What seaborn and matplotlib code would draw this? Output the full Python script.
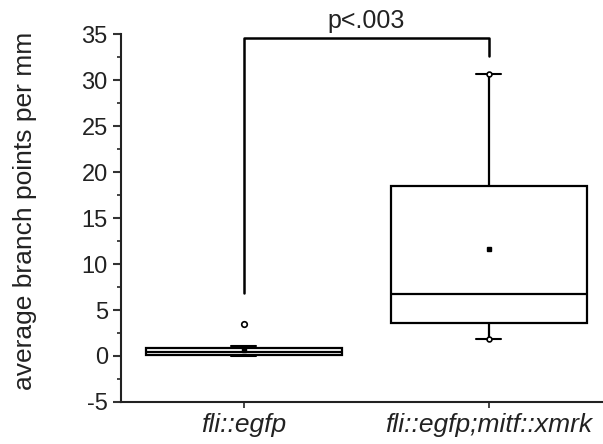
import numpy as np
import pandas as pd
import matplotlib.pyplot as plt
import seaborn as sns

sns.set_style('ticks')
plt.rcParams['font.family'] = ['Liberation Sans', 'DejaVu Sans']
plt.rcParams['axes.unicode_minus'] = False

# data (raw values chosen to reproduce box stats)
groups = ['fli::egfp', 'fli::egfp;mitf::xmrk']
ctrl_vals = [0.0, 0.0, 0.1, 0.15, 0.3, 0.4, 0.45, 0.6, 0.8, 0.9, 1.1, 3.5]
xmrk_vals = [1.85, 3.2, 3.75, 6.0, 7.4, 17.0, 23.0, 30.7]
p_text = 'p<.003'

df = pd.DataFrame({
    'group': [groups[0]] * len(ctrl_vals) + [groups[1]] * len(xmrk_vals),
    'value': ctrl_vals + xmrk_vals,
})

fig = plt.figure(figsize=(6.03, 4.44), dpi=100)
ax = fig.add_axes([0.2007, 0.0946, 0.7993, 0.8288])

sns.boxplot(data=df, x='group', y='value', ax=ax, color='white',
            linecolor='black', linewidth=1.6, width=0.8, showmeans=True,
            meanprops=dict(marker='s', markerfacecolor='black',
                           markeredgecolor='black', markersize=3.5),
            flierprops=dict(marker='o', markerfacecolor='none',
                            markeredgecolor='black', markersize=4,
                            markeredgewidth=1.2),
            capprops=dict(linewidth=1.5))

# shorten caps
for line in ax.lines:
    xd = np.asarray(line.get_xdata(), dtype=float)
    yd = np.asarray(line.get_ydata(), dtype=float)
    if len(xd) == 2 and yd[0] == yd[1] and abs(xd[1] - xd[0]) < 0.79:
        c = xd.mean()
        line.set_xdata([c - 0.05, c + 0.05])

# small circles at min / max of the second group
grp = df[df['group'] == groups[1]]['value']
ax.plot([1, 1], [grp.min(), grp.max()], 'o', mfc='white', mec='black',
        ms=3.5, mew=1.2, zorder=5)

# significance bracket
y_br = 34.6
left_end = 6.8
right_end = 32.6
ax.plot([0, 0, 1, 1], [left_end, y_br, y_br, right_end], color='black',
        lw=1.8, clip_on=False)
ax.text(0.5, y_br + 0.5, p_text, ha='center', va='bottom', fontsize=18,
        color='#222222', clip_on=False)

ax.set_xlim(-0.5, 1.467)
ax.set_ylim(-5, 35)
ax.set_yticks(np.arange(-5, 36, 5))
ax.set_yticks(np.arange(-5, 35, 2.5), minor=True)
ax.set_xlabel('')
ax.set_ylabel('average branch points per mm', fontsize=19, color='#222222')
ax.yaxis.set_label_coords(-0.174, 0.52)
ax.set_xticks([0, 1])
ax.set_xticklabels(groups, fontsize=19, style='italic', color='#222222')
ax.tick_params(axis='y', labelsize=17, length=6, width=1.5, pad=3.5,
               color='#333333', labelcolor='#222222')
ax.tick_params(axis='y', which='minor', length=3, width=1.2)
ax.tick_params(axis='x', length=4.5, width=1.2, pad=3.5)
sns.despine(ax=ax)
for s in ['left', 'bottom']:
    ax.spines[s].set_linewidth(1.5)
    ax.spines[s].set_color('#222222')

fig.savefig('out.png', dpi=100)
